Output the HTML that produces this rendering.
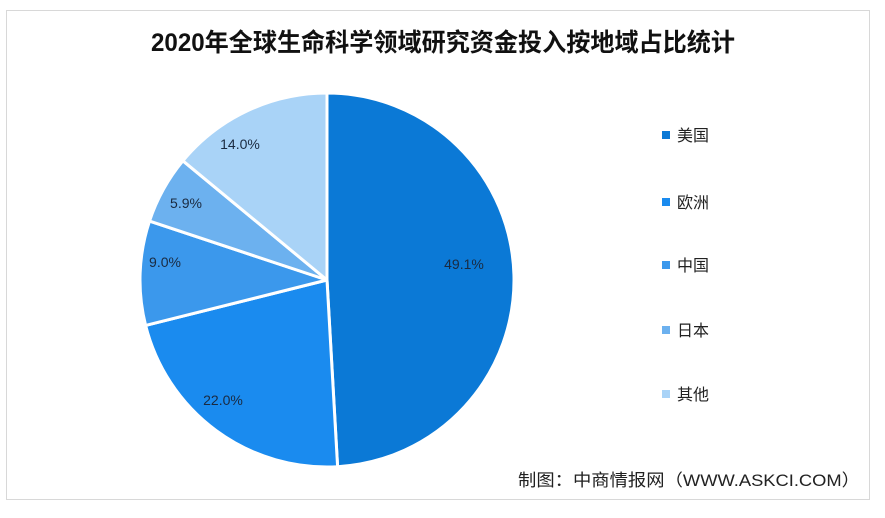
<!DOCTYPE html>
<html><head><meta charset="utf-8"><style>
html,body{margin:0;padding:0;background:#fff;}
svg{display:block;font-family:"Liberation Sans","Noto Sans CJK SC",sans-serif;}
</style></head><body>
<svg width="885" height="518" viewBox="0 0 885 518" xmlns="http://www.w3.org/2000/svg">
<rect x="0" y="0" width="885" height="518" fill="#fff"/>
<rect x="6.5" y="10.5" width="863" height="489" fill="#fff" stroke="#d8d8d8" stroke-width="1"/>
<text x="443" y="51" text-anchor="middle" font-size="25" font-weight="bold" fill="#111" textLength="584" lengthAdjust="spacingAndGlyphs" font-family="'Liberation Sans','Noto Sans CJK SC',sans-serif">2020年全球生命科学领域研究资金投入按地域占比统计</text>
<g stroke="#fff" stroke-width="3" stroke-linejoin="round">
<path d="M327,280 L327,93 A187,187 0 0 1 337.6,466.7 Z" fill="#0b79d6"/>
<path d="M327,280 L337.6,466.7 A187,187 0 0 1 145.6,325.4 Z" fill="#1a8bef"/>
<path d="M327,280 L145.6,325.4 A187,187 0 0 1 149.5,221.1 Z" fill="#3b98ec"/>
<path d="M327,280 L149.5,221.1 A187,187 0 0 1 182.9,160.8 Z" fill="#6cb1ef"/>
<path d="M327,280 L182.9,160.8 A187,187 0 0 1 327,93 Z" fill="#a9d3f7"/>
</g>
<g font-size="14" fill="#1a2a40">
<text x="464" y="269" text-anchor="middle">49.1%</text>
<text x="223" y="405" text-anchor="middle">22.0%</text>
<text x="165" y="267" text-anchor="middle">9.0%</text>
<text x="186" y="208" text-anchor="middle">5.9%</text>
<text x="240" y="149" text-anchor="middle">14.0%</text>
</g>
<g font-size="16" fill="#222">
<rect x="662" y="131" width="8" height="8" fill="#0b79d6"/><text x="677" y="141">美国</text>
<rect x="662" y="198" width="8" height="8" fill="#1a8bef"/><text x="677" y="208">欧洲</text>
<rect x="662" y="261" width="8" height="8" fill="#3b98ec"/><text x="677" y="271">中国</text>
<rect x="662" y="326" width="8" height="8" fill="#6cb1ef"/><text x="677" y="336">日本</text>
<rect x="662" y="390" width="8" height="8" fill="#a9d3f7"/><text x="677" y="400">其他</text>
</g>
<text x="518" y="486" font-size="17" fill="#222" textLength="342" lengthAdjust="spacingAndGlyphs">制图：中商情报网（WWW.ASKCI.COM）</text>
</svg>
</body></html>
